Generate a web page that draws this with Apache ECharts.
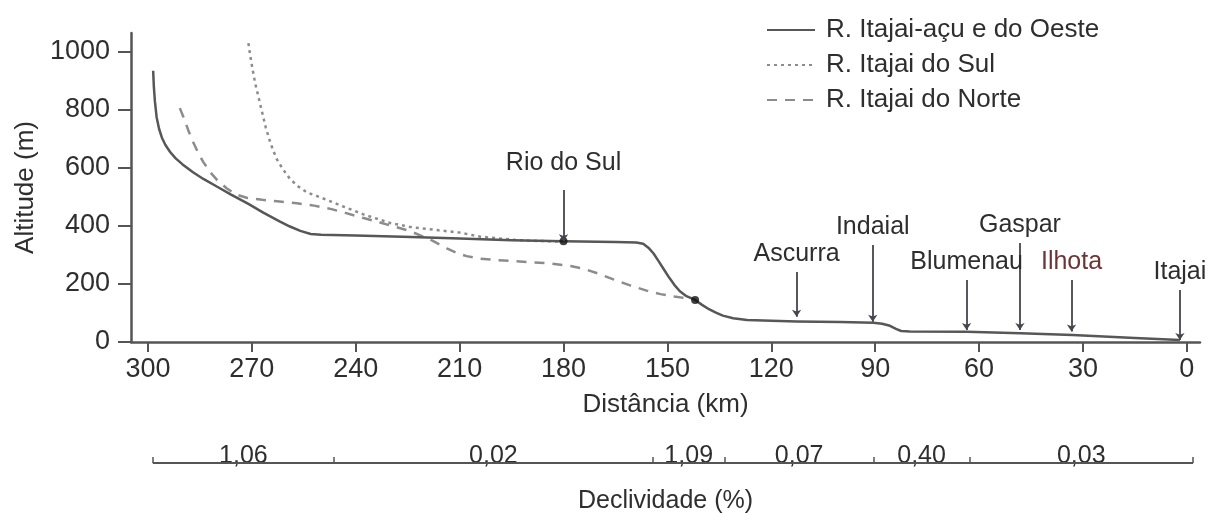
<!DOCTYPE html>
<html>
<head>
<meta charset="utf-8">
<script src="https://cdn.jsdelivr.net/npm/echarts@6/dist/echarts.min.js"></script>
<style>
html,body{margin:0;padding:0;background:#fff;}
#chart{width:1210px;height:513px;}
</style>
</head>
<body>
<div id="chart"></div>
<script>
// ---- data ----
const seriesNames = ['R. Itajai-açu e do Oeste', 'R. Itajai do Sul', 'R. Itajai do Norte'];

const distOeste = [298.5, 298.3, 298, 297.5, 296.8, 296, 295, 293.6, 292, 290, 287, 284, 280, 276, 271, 266.7, 262, 259, 256, 253, 250, 240, 224, 210, 195, 180, 165, 159, 157, 155.5, 154, 152.5, 151, 149.5, 148, 146.4, 144.5, 142, 140, 138, 136, 134, 131, 127, 120, 112.7, 100, 90.5, 88, 86, 84, 82.5, 80, 63.6, 48, 33, 15, 2];
const altOeste  = [935, 880, 830, 775, 735, 705, 680, 655, 633, 612, 585, 562, 535, 508, 476, 446, 416, 398, 383, 372, 370, 367, 362, 357, 351, 347, 345, 343, 339, 325, 305, 278, 250, 222, 197, 175, 158, 145, 128, 113, 101, 91, 82, 76, 73, 71, 69, 66, 63, 57, 45, 38, 36, 35, 30, 24, 14, 7];

const distSul = [271, 270.5, 269.8, 269, 268, 267, 266, 265, 264, 262.8, 261, 259, 256.5, 254, 251, 248.4, 243.6, 237.8, 230, 224, 216, 210, 204, 195, 190, 180];
const altSul  = [1030, 990, 940, 890, 840, 790, 740, 700, 665, 630, 595, 562, 535, 515, 502, 490, 467, 440, 410, 396, 385, 377, 363, 353, 349, 346];

const distNorte = [290.8, 289.5, 288.4, 287, 285.5, 284, 282, 280, 277.3, 274.5, 271.5, 267, 262, 257, 252, 247, 243, 238, 233, 229, 225, 221, 218, 215.5, 213.7, 211, 208, 204, 199, 195, 185, 178, 174, 170, 165.6, 161, 156, 152, 148, 142];
const altNorte  = [806, 768, 731, 690, 652, 620, 585, 558, 530, 508, 497, 490, 484, 478, 470, 458, 445, 428, 412, 398, 385, 366, 350, 334, 323, 308, 296, 287, 282, 279, 272, 262, 252, 236, 216, 196, 177, 165, 157, 146];

const junctionKm  = [180, 142];
const junctionAlt = [347, 145];

const placeNames  = ['Rio do Sul', 'Ascurra', 'Indaial', 'Blumenau', 'Gaspar', 'Ilhota', 'Itajai'];
const placeKm     = [180, 112.7, 90.7, 63.6, 48.2, 33.3, 2];
const placeTipAlt = [347, 87, 70, 41, 41, 36, 7];
const placeTopAlt = [524, 241, 334, 214, 341, 214, 179];

const xTicks = [0, 30, 60, 90, 120, 150, 180, 210, 240, 270, 300];
const yTicks = [0, 200, 400, 600, 800, 1000];

const slopeBounds = [298.6, 246.3, 154.2, 133.5, 90.4, 62.8, -1.8];
const slopeLabels = ['1,06', '0,02', '1,09', '0,07', '0,40', '0,03'];

// ---- build ----
const zip = (a, b) => a.map((v, i) => [v, b[i]]);
const TXT = '#2e2e2e';
const FONT = 'Liberation Sans, Arial, sans-serif';

const placeLines = placeNames.map((n, i) => ({
  name: n,
  coords: [[placeKm[i], placeTopAlt[i]], [placeKm[i], placeTipAlt[i]]],
  label: {
    distance: i === 0 ? 14 : 5,
    color: n === 'Ilhota' ? '#6e3434' : TXT
  }
}));

const slopeMid = slopeLabels.map((s, i) => (slopeBounds[i] + slopeBounds[i + 1]) / 2);
const slopeText = v => {
  let best = 0;
  slopeMid.forEach((m, i) => { if (Math.abs(m - v) < Math.abs(slopeMid[best] - v)) best = i; });
  return slopeLabels[best];
};

const chart = echarts.init(document.getElementById('chart'), null, {renderer: 'canvas'});
chart.setOption({
  animation: false,
  backgroundColor: '#fff',
  textStyle: {fontFamily: FONT},
  grid: [
    {left: 131, right: 10, top: 33, bottom: 171, outerBoundsMode: 'none'},
    {left: 131, right: 10, top: 430, bottom: 50, outerBoundsMode: 'none'}
  ],
  legend: {
    data: seriesNames,
    orient: 'vertical',
    left: 766, top: 17, padding: 0,
    itemWidth: 48, itemHeight: 14, itemGap: 9,
    itemStyle: {opacity: 0},
    textStyle: {fontSize: 26, color: TXT, fontFamily: FONT, padding: [0, 0, 0, 6]}
  },
  xAxis: [
    {
      type: 'value', gridIndex: 0, inverse: true, min: -3.8, max: 304.9,
      name: 'Distância (km)', nameLocation: 'middle', nameGap: 50,
      nameTextStyle: {fontSize: 26, color: TXT, fontFamily: FONT},
      axisLine: {show: true, onZero: false, lineStyle: {color: '#555', width: 2.5}},
      axisTick: {show: true, length: 10, customValues: xTicks, lineStyle: {color: '#555', width: 2}},
      axisLabel: {customValues: xTicks, fontSize: 27, color: TXT, margin: 14, fontFamily: FONT},
      splitLine: {show: false}
    },
    {
      type: 'value', gridIndex: 1, inverse: true, min: -3.8, max: 304.9,
      name: 'Declividade (%)', nameLocation: 'middle', nameGap: 26,
      nameTextStyle: {fontSize: 25, color: TXT, fontFamily: FONT},
      axisLine: {show: false},
      axisTick: {show: true, inside: true, length: 6, customValues: slopeBounds, lineStyle: {color: '#555', width: 1.5}},
      axisLabel: {show: true, inside: true, margin: -6, customValues: slopeMid, formatter: slopeText,
                  fontSize: 25, color: TXT, fontFamily: FONT, hideOverlap: false},
      splitLine: {show: false}
    }
  ],
  yAxis: [
    {
      type: 'value', gridIndex: 0, min: 0, max: 1065,
      name: 'Altitude (m)', nameLocation: 'middle', nameGap: 80,
      nameTextStyle: {fontSize: 26, color: TXT, fontFamily: FONT},
      axisLine: {show: true, onZero: false, lineStyle: {color: '#555', width: 2.5}},
      axisTick: {show: true, length: 13, customValues: yTicks, lineStyle: {color: '#555', width: 2}},
      axisLabel: {customValues: yTicks, formatter: v => String(v), fontSize: 27, color: TXT, margin: 21, fontFamily: FONT},
      splitLine: {show: false}
    },
    {type: 'value', gridIndex: 1, min: 0, max: 1, show: false}
  ],
  series: [
    {
      name: seriesNames[0], type: 'line', xAxisIndex: 0, yAxisIndex: 0,
      data: zip(distOeste, altOeste), symbol: 'none', smooth: false,
      lineStyle: {color: '#575757', width: 2.5, type: 'solid', join: 'round'}, itemStyle: {color: '#575757'}, z: 4
    },
    {
      name: seriesNames[1], type: 'line', xAxisIndex: 0, yAxisIndex: 0,
      data: zip(distSul, altSul), symbol: 'none', smooth: false,
      lineStyle: {color: '#8c8c8c', width: 2.5, type: [3, 4]}, itemStyle: {color: '#8c8c8c'}, z: 3
    },
    {
      name: seriesNames[2], type: 'line', xAxisIndex: 0, yAxisIndex: 0,
      data: zip(distNorte, altNorte), symbol: 'none', smooth: false,
      lineStyle: {color: '#8c8c8c', width: 2.5, type: [10, 8]}, itemStyle: {color: '#8c8c8c'}, z: 3
    },
    {
      name: 'junctions', type: 'scatter', xAxisIndex: 0, yAxisIndex: 0,
      data: zip(junctionKm, junctionAlt), symbol: 'circle', symbolSize: 8,
      itemStyle: {color: '#111'}, z: 6
    },
    {
      name: 'places', type: 'lines', coordinateSystem: 'cartesian2d', xAxisIndex: 0, yAxisIndex: 0,
      data: placeLines, symbol: ['none', 'arrow'], symbolSize: 7, clip: false,
      lineStyle: {color: '#45454f', width: 1.8, opacity: 1},
      label: {show: true, position: 'start', formatter: '{b}', fontSize: 25, color: TXT, fontFamily: FONT, overflow: 'none'},
      labelLayout: {hideOverlap: false},
      z: 7
    },
    {
      name: 'slopeLine', type: 'line', xAxisIndex: 1, yAxisIndex: 1,
      data: [[slopeBounds[0], 0], [slopeBounds[slopeBounds.length - 1], 0]], symbol: 'none',
      lineStyle: {color: '#555', width: 2}
    }
  ]
});
</script>
</body>
</html>
